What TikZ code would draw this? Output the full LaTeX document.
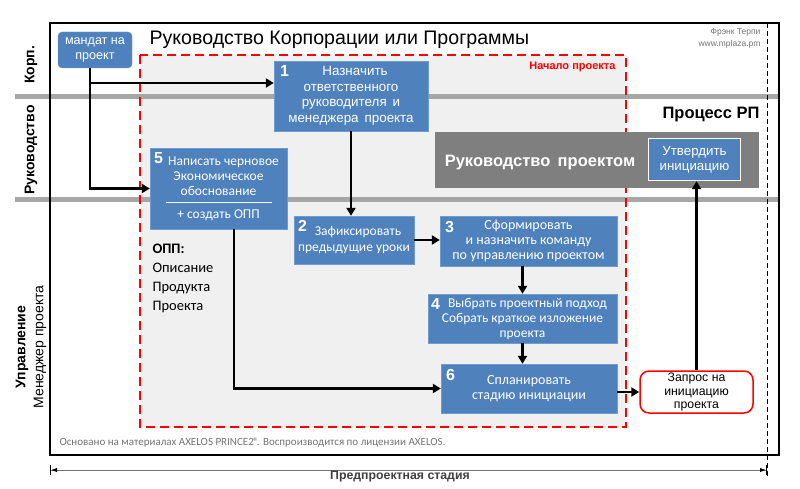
\documentclass[tikz,border=0pt]{standalone}
\usepackage{fontspec}
\setmainfont{Liberation Sans}
\newfontfamily\calib{Carlito}
\usetikzlibrary{arrows.meta,positioning}
\definecolor{boxblue}{HTML}{4F81BD}
\definecolor{boxedge}{HTML}{6E9BD0}
\definecolor{bargray}{HTML}{A6A6A6}
\definecolor{pmgray}{HTML}{7F7F7F}
\definecolor{bgfill}{HTML}{F0F0F0}

\begin{document}
\begin{tikzpicture}[x=1pt, y=-1pt, >={Triangle[length=8pt,width=9pt]},
  blok/.style={draw=boxedge, fill=boxblue, text=white, align=center, inner sep=0pt},
  num/.style={anchor=north west, inner sep=0pt, text=white, font=\bfseries\fontsize{16}{16}\selectfont},
  pijl/.style={->, line width=2.5pt},
  band/.style={bargray, line width=5pt},
  zijtekst/.style={rotate=90, font=\bfseries\fontsize{14}{14}\selectfont}]
\useasboundingbox (0,0) rectangle (800,489);

% background of the start of the project
\draw[fill=bgfill, draw=none] (140,55) rectangle (626,427);
\draw[band] (15,97) -- (779,97);
\draw[band] (15,200) -- (779,200);
\draw[red, line width=2pt, dash pattern=on 9pt off 5pt] (140,55) rectangle (626,427);

% frame
\draw[line width=2.5pt] (50,23) rectangle (779,455);
\draw[line width=1pt, dash pattern=on 5pt off 3pt] (767,23) -- (767,478);

% side labels
\node[zijtekst] (lkorp) at (31,65) {Корп.};
\node[zijtekst] (lruk) at (31,150) {Руководство};
\node[zijtekst] (lupr) at (22,347) {Управление};
\node[rotate=90, font=\fontsize{14}{14}\selectfont] (lmen) at (40,347) {Менеджер проекта};

% texts
\node[anchor=west, font=\fontsize{19.6}{19.6}\selectfont] (titel) at (146,40) {Руководство Корпорации или Программы};
\node[anchor=east, align=right, text=black!55, font=\fontsize{8.5}{12}\selectfont] (auteur) at (764,38) {Фрэнк Терпи\\www.mplaza.pm};
\node[anchor=east, text=red, font=\bfseries\fontsize{11}{11}\selectfont] (start) at (619,67) {Начало проекта};
\node[anchor=east, font=\bfseries\fontsize{16.5}{16.5}\selectfont] (proces) at (763,115) {Процесс РП};
\node[anchor=north west, align=left, font=\calib\fontsize{14.5}{19.3}\selectfont] (opp) at (149,240) {\textbf{ОПП:}\\Описание\\Продукта\\Проекта};
\node[anchor=west, text=black!55, font=\calib\fontsize{11}{11}\selectfont] (bron) at (56,443) {Основано на материалах AXELOS PRINCE2\kern-0.5pt®\kern-2pt. Воспроизводится по лицензии AXELOS.};

% project board
\node[fill=pmgray, minimum width=324pt, minimum height=56pt, inner sep=0pt] (rp) at (597,160) {};
\node[text=white, font=\bfseries\fontsize{16.5}{16.5}\selectfont] (rptekst) at (540,163) {Руководство\, проектом};
\node[blok, draw=white, line width=1.5pt, minimum width=92pt, minimum height=42pt, font=\fontsize{13.3}{15.5}\selectfont] (utv) at (694.5,159.5) {Утвердить\\инициацию};

% activities
\node[blok, rounded corners=4pt, minimum width=74pt, minimum height=36pt, font=\fontsize{12.6}{15}\selectfont] (mandat) at (95,50) {мандат на\\проект};
\node[blok, minimum width=154pt, minimum height=70pt, font=\fontsize{13.4}{15.5}\selectfont] (b1) at (351,96) {\hspace*{8pt}Назначить\\ответственного\\руководителя\, и\\менеджера\, проекта};
\node[blok, minimum width=137pt, minimum height=81pt, font=\calib\fontsize{13.5}{15}\selectfont] (b5) at (218.5,188.5) {\hspace*{10pt}Написать черновое\\Экономическое\\обоснование\\[8pt]+ создать ОПП};
\draw[white, line width=0.8pt] ([shift={(16,-27)}]b5.south west) -- ([shift={(-15,-27)}]b5.south east);
\node[blok, minimum width=120pt, minimum height=48pt, font=\calib\fontsize{13.5}{16}\selectfont] (b2) at (354,240) {\hspace*{8pt}Зафиксировать\\предыдущие уроки};
\node[blok, minimum width=177pt, minimum height=50pt, font=\calib\fontsize{14}{15}\selectfont] (b3) at (528.5,241) {Сформировать\\и назначить команду\\по управлению проектом};
\node[blok, minimum width=189pt, minimum height=49pt, font=\calib\fontsize{13.5}{15}\selectfont] (b4) at (522.5,318.5) {\hspace*{10pt}Выбрать проектный подход\\Собрать краткое изложение\\проекта};
\node[blok, minimum width=176pt, minimum height=49pt, font=\calib\fontsize{14}{15.5}\selectfont] (b6) at (529,388.5) {Спланировать\\стадию инициации};
\node[draw=red, line width=1.5pt, fill=white, rounded corners=9pt, minimum width=113pt, minimum height=42pt, align=center, inner sep=0pt, font=\fontsize{12.3}{13.5}\selectfont] (zapros) at (696.5,392) {Запрос на\\инициацию\\проекта};

% numbers
\node[num] at ([shift={(6,4)}]b1.north west) {1};
\node[num] at ([shift={(4,4)}]b5.north west) {5};
\node[num] at ([shift={(4,4)}]b2.north west) {2};
\node[num] at ([shift={(5,5)}]b3.north west) {3};
\node[num] at ([shift={(3,4)}]b4.north west) {4};
\node[num] at ([shift={(5,5)}]b6.north west) {6};

% connectors
\coordinate (tak) at (90,83);
\draw[pijl] ([xshift=-5pt]mandat.south) |- (b5.west);
\draw[pijl] (tak) -- (tak -| b1.west);
\draw[pijl] (b1.south) -- (b1.south |- b2.north);
\draw[pijl] (b2.east) -- (b2.east -| b3.west);
\draw[pijl] (b4.north |- b3.south) -- (b4.north);
\draw[pijl] (b4.south) -- (b4.south |- b6.north);
\draw[pijl] ([xshift=15.5pt]b5.south) |- (b6.west);
\draw[pijl] (zapros.west -| b6.east) -- (zapros.west);
\draw[pijl] (zapros.north) -- (zapros.north |- utv.south);

% pre-project stage
\coordinate (pstart) at (50,470);
\coordinate (peind) at (767,470);
\draw[black!55, line width=1pt, {Bar[width=10pt,color=black]Latex[length=6pt,color=black]}-{Latex[length=6pt,color=black]Bar[width=10pt,color=black]}] (pstart) -- (peind);
\node[font=\bfseries\fontsize{12.3}{12.3}\selectfont, text=black!75] (stadia) at (400,477) {Предпроектная стадия};
\end{tikzpicture}
\end{document}
